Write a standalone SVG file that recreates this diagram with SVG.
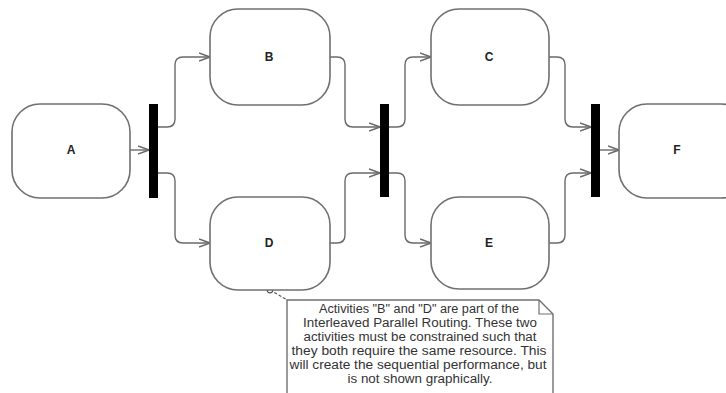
<svg xmlns="http://www.w3.org/2000/svg" width="726" height="393" viewBox="0 0 726 393">
<style>
.box{fill:#fff;stroke:#707070;stroke-width:1.6}
.bar{fill:#000}
.lbl{font-family:"Liberation Sans",Arial,sans-serif;font-size:12px;font-weight:bold;fill:#222;text-anchor:middle}
.conn{fill:none;stroke:#6a6a6a;stroke-width:1.4;marker-end:url(#arr)}
.note{fill:#fff;stroke:#707070;stroke-width:1.4}
.nt{font-family:"Liberation Sans",Arial,sans-serif;font-size:12.5px;fill:#333;text-anchor:middle}
</style>
<defs>
<marker id="arr" viewBox="0 0 12 10" refX="11" refY="5" markerWidth="12" markerHeight="10" markerUnits="userSpaceOnUse" orient="auto">
<path d="M0,1 L11,5 L0,9" fill="none" stroke="#6a6a6a" stroke-width="1.4"/>
</marker>
</defs>
<g id="connectors">
<path class="conn" d="M130,150 H149"/>
<path class="conn" d="M158,127 H167 Q175,127 175,119 V65 Q175,57 183,57 H210"/>
<path class="conn" d="M158,173 H167 Q175,173 175,181 V235 Q175,243 183,243 H210"/>
<path class="conn" d="M330,57 H337 Q345,57 345,65 V119 Q345,127 353,127 H380"/>
<path class="conn" d="M330,243 H337 Q345,243 345,235 V181 Q345,173 353,173 H380"/>
<path class="conn" d="M389,127 H397 Q405,127 405,119 V65 Q405,57 413,57 H431"/>
<path class="conn" d="M389,173 H397 Q405,173 405,181 V235 Q405,243 413,243 H431"/>
<path class="conn" d="M549,57 H557 Q565,57 565,65 V119 Q565,127 573,127 H591"/>
<path class="conn" d="M549,243 H557 Q565,243 565,235 V181 Q565,173 573,173 H591"/>
<path class="conn" d="M600,150 H619"/>
<path d="M270,290 L289,301" fill="none" stroke="#555" stroke-width="1.2" stroke-dasharray="3,2"/>
<circle cx="270" cy="290" r="2.8" fill="#fff" stroke="#555" stroke-width="1.2"/>
</g>
<g id="A"><rect class="box" x="12" y="104" width="118" height="94" rx="28"/><text class="lbl" x="71" y="154">A</text></g>
<g id="bar1"><rect class="bar" x="149" y="104" width="9" height="94"/></g>
<g id="B"><rect class="box" x="210" y="9" width="120" height="96" rx="28"/><text class="lbl" x="269" y="61">B</text></g>
<g id="D"><rect class="box" x="210" y="197" width="120" height="93" rx="28"/><text class="lbl" x="269" y="247">D</text></g>
<g id="bar2"><rect class="bar" x="380" y="104" width="9" height="93"/></g>
<g id="C"><rect class="box" x="431" y="9" width="118" height="96" rx="28"/><text class="lbl" x="489" y="61">C</text></g>
<g id="E"><rect class="box" x="431" y="197" width="118" height="92" rx="28"/><text class="lbl" x="489" y="247">E</text></g>
<g id="bar3"><rect class="bar" x="591" y="104" width="9" height="93"/></g>
<g id="F"><rect class="box" x="619" y="104" width="130" height="94" rx="28"/><text class="lbl" x="677" y="154">F</text></g>
<g id="note">
<path class="note" d="M287,300 H539 L553,314 V400 H287 Z"/>
<path d="M539,300 V314 H553" fill="none" stroke="#707070" stroke-width="1.2"/>
<text class="nt" x="419" y="313" textLength="200" lengthAdjust="spacingAndGlyphs">Activities "B" and "D" are part of the</text>
<text class="nt" x="420" y="327" textLength="234" lengthAdjust="spacingAndGlyphs">Interleaved Parallel Routing. These two</text>
<text class="nt" x="420" y="341" textLength="233" lengthAdjust="spacingAndGlyphs">activities must be constrained such that</text>
<text class="nt" x="419" y="355" textLength="255" lengthAdjust="spacingAndGlyphs">they both require the same resource. This</text>
<text class="nt" x="418" y="369" textLength="257" lengthAdjust="spacingAndGlyphs">will create the sequential performance, but</text>
<text class="nt" x="420" y="383" textLength="145" lengthAdjust="spacingAndGlyphs">is not shown graphically.</text>
</g>
</svg>
